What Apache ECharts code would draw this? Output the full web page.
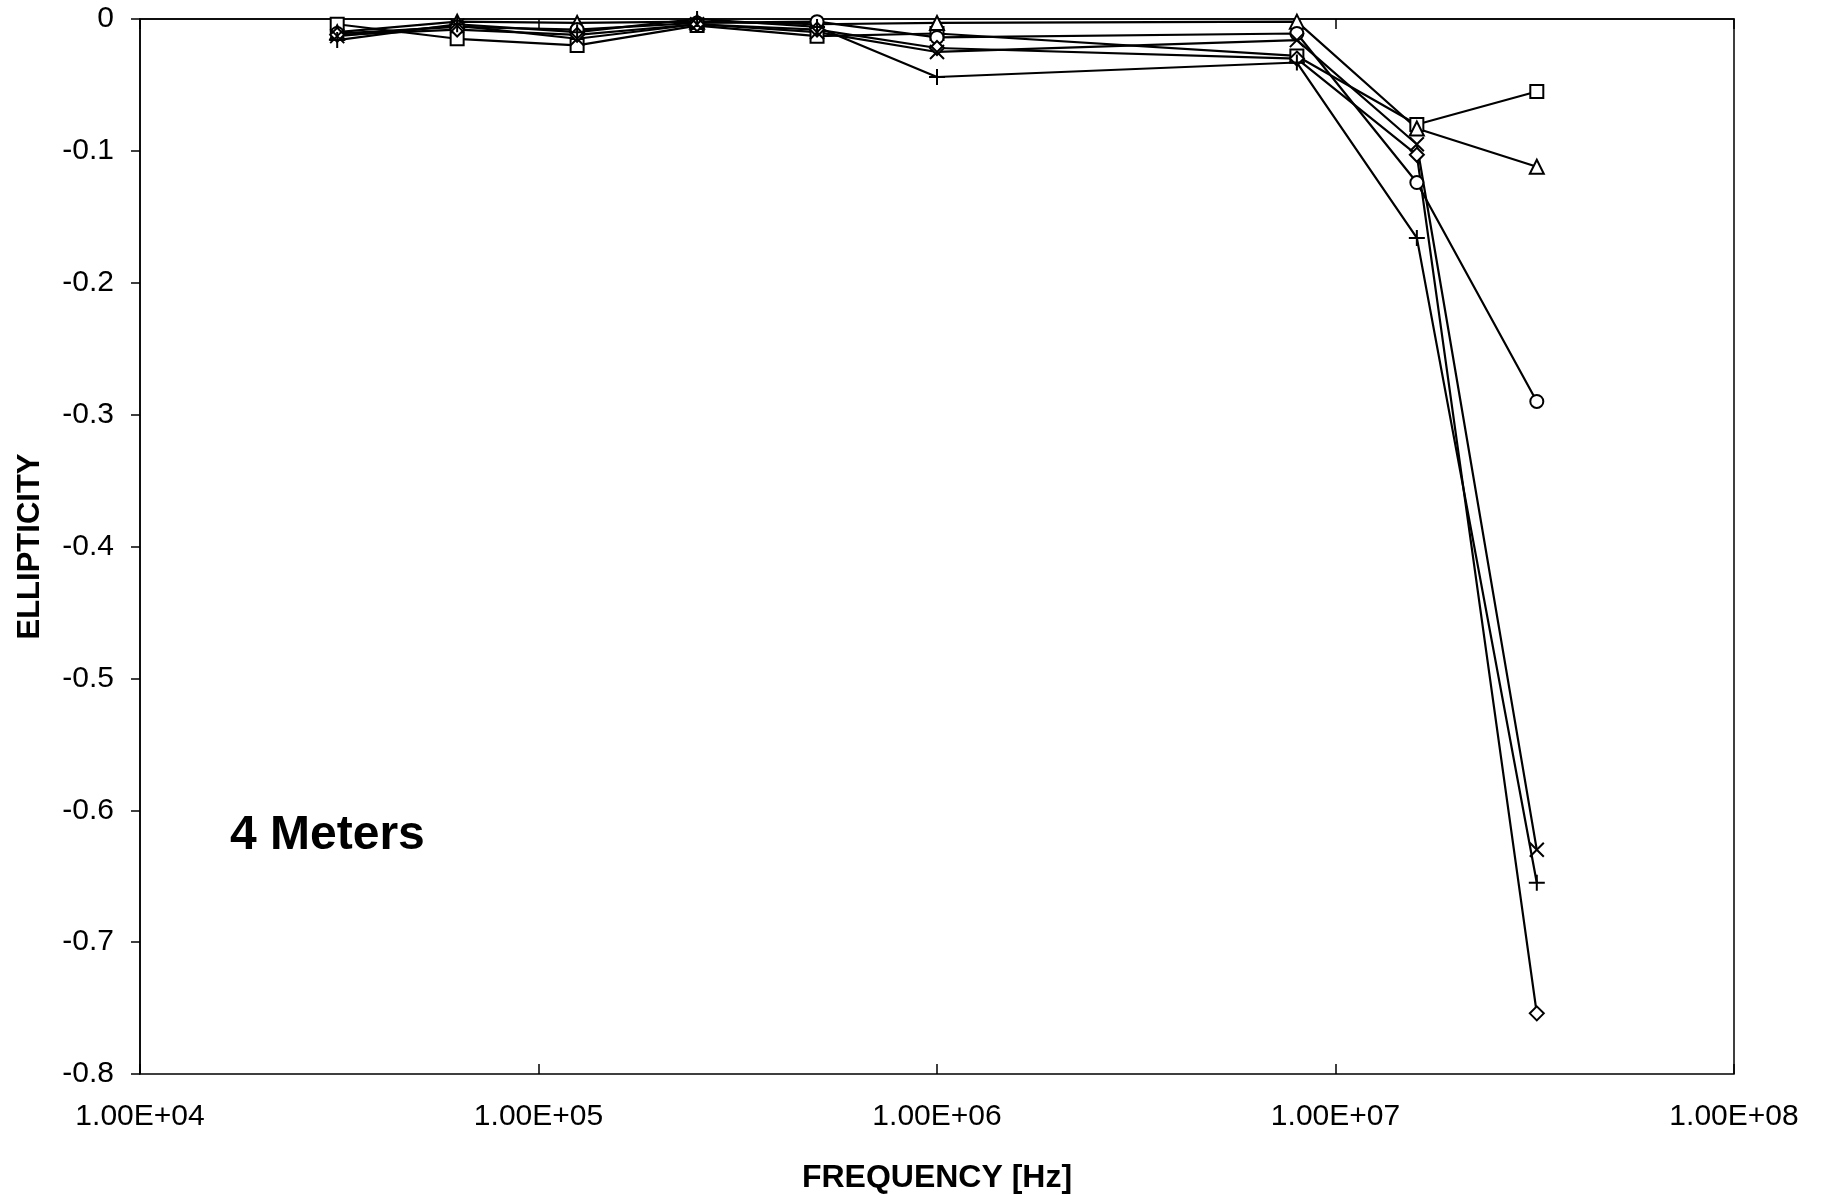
<!DOCTYPE html>
<html>
<head>
<meta charset="utf-8">
<script src="https://cdn.jsdelivr.net/npm/echarts@6/dist/echarts.min.js"></script>
<style>
html,body{margin:0;padding:0;background:#fff;}
#chart{width:1828px;height:1195px;}
</style>
</head>
<body>
<div id="chart"></div>
<script>
// Frequencies (Hz)
const frequencies = [31250, 62500, 125000, 250000, 500000, 1000000, 8000000, 16000000, 32000000];
// Ellipticity per series (marker shape)
const squareSeries   = [-0.004, -0.015, -0.020, -0.005, -0.013, -0.011, -0.028, -0.080, -0.055];
const triangleSeries = [-0.010, -0.002, -0.003, -0.002, -0.004, -0.003, -0.002, -0.083, -0.112];
const circleSeries   = [-0.011, -0.006, -0.008, -0.003, -0.002, -0.014, -0.011, -0.124, -0.290];
const diamondSeries  = [-0.012, -0.008, -0.012, -0.004, -0.008, -0.022, -0.030, -0.103, -0.754];
const crossSeries    = [-0.013, -0.005, -0.015, -0.004, -0.010, -0.025, -0.016, -0.095, -0.630];
const plusSeries     = [-0.016, -0.004, -0.010,  0.000, -0.006, -0.044, -0.033, -0.166, -0.655];
// Tick labels
const xTickLabels = ['1.00E+04', '1.00E+05', '1.00E+06', '1.00E+07', '1.00E+08'];
const xTitle = 'FREQUENCY [Hz]';
const yTitle = 'ELLIPTICITY';
const annotation = '4 Meters';

const FONT = '"Liberation Sans", Arial, Helvetica, sans-serif';
const GRID_TOP = 19, GRID_BOTTOM = 121, H = 1195;

function pairs(vals) { return frequencies.map((f, i) => [f, vals[i]]); }

function mk(name, vals, symbol, size) {
  return {
    name: name,
    type: 'line',
    xAxisIndex: 0,
    data: pairs(vals),
    symbol: symbol,
    symbolSize: size,
    showSymbol: true,
    lineStyle: { color: '#000', width: 2.2 },
    itemStyle: { color: '#fff', borderColor: '#000', borderWidth: 2 },
    emphasis: { disabled: true },
    z: 3
  };
}

const baseX = {
  type: 'log',
  logBase: 10,
  min: 1e4,
  max: 1e8,
  minorTick: { show: false },
  splitLine: { show: false }
};

const chart = echarts.init(document.getElementById('chart'), null, { renderer: 'canvas' });
chart.setOption({
  animation: false,
  backgroundColor: '#fff',
  grid: {
    left: 140, right: 94, top: GRID_TOP, bottom: GRID_BOTTOM,
    containLabel: false, outerBoundsMode: 'none',
    show: true, borderColor: '#000', borderWidth: 1.5
  },
  xAxis: [Object.assign({}, baseX, {
    position: 'bottom',
    name: xTitle,
    nameLocation: 'middle',
    nameGap: 88,
    nameTextStyle: { fontFamily: FONT, fontWeight: 'bold', fontSize: 32, color: '#000' },
    axisLine: { lineStyle: { color: '#000', width: 1.5 } },
    axisTick: { show: true, inside: false, length: 10, lineStyle: { color: '#000', width: 1.5 } },
    axisLabel: {
      margin: 28,
      fontFamily: FONT,
      fontSize: 30,
      color: '#000',
      formatter: function (v) {
        const idx = Math.round(Math.log10(v)) - 4;
        return xTickLabels[idx] !== undefined ? xTickLabels[idx] : '';
      }
    }
  }), Object.assign({}, baseX, {
    // upper half of the crossing ticks, drawn at the bottom edge of the plot
    position: 'top',
    offset: -(H - GRID_TOP - GRID_BOTTOM),
    axisLine: { show: false },
    axisTick: { show: true, inside: false, length: 10, lineStyle: { color: '#000', width: 1.5 } },
    axisLabel: { show: false }
  })],
  yAxis: {
    type: 'value',
    min: -0.8,
    max: 0,
    interval: 0.1,
    name: yTitle,
    nameLocation: 'middle',
    nameGap: 94,
    nameRotate: 90,
    nameTextStyle: { fontFamily: FONT, fontWeight: 'bold', fontSize: 31, color: '#000' },
    axisLine: { show: true, lineStyle: { color: '#000', width: 1.5 } },
    axisTick: { show: true, inside: false, length: 9, lineStyle: { color: '#000', width: 1.5 } },
    splitLine: { show: false },
    axisLabel: {
      margin: 26,
      fontFamily: FONT,
      fontSize: 30,
      color: '#000',
      formatter: function (v) { return Math.abs(v) < 1e-9 ? '0' : (+v.toFixed(1)).toString(); }
    }
  },
  graphic: [{
    type: 'text',
    left: 230,
    top: 812,
    style: { text: annotation, font: 'bold 48px ' + FONT, fill: '#000' }
  }],
  series: [
    mk('square', squareSeries, 'rect', 13),
    mk('triangle', triangleSeries, 'triangle', 14),
    mk('circle', circleSeries, 'circle', 13),
    mk('diamond', diamondSeries, 'diamond', 14),
    mk('cross', crossSeries, 'path://M0,0L10,10M10,0L0,10', 14),
    mk('plus', plusSeries, 'path://M5,0L5,10M0,5L10,5', 16)
  ]
});
</script>
</body>
</html>
